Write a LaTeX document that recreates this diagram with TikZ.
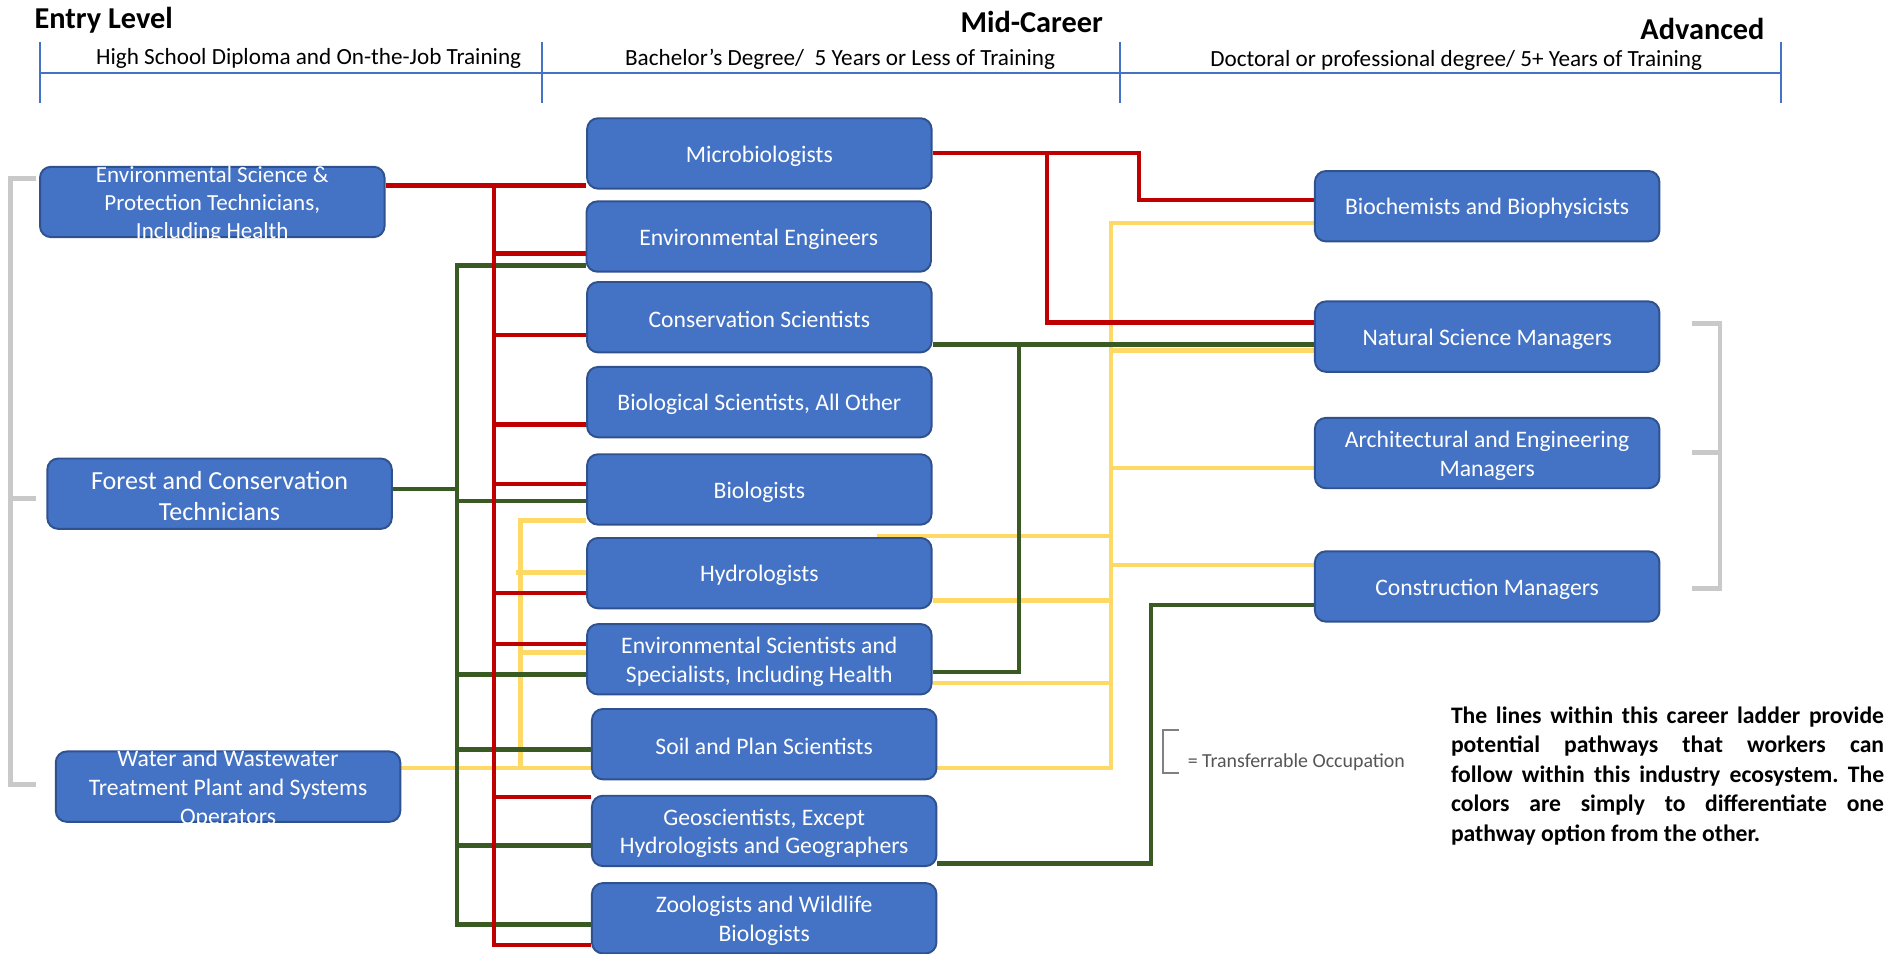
\documentclass[tikz,border=0pt]{standalone}
\usepackage{fontspec}
\setmainfont{Carlito}
\usetikzlibrary{backgrounds}
\definecolor{boxfill}{HTML}{4472C4}
\definecolor{boxline}{HTML}{2F528F}
\definecolor{cred}{HTML}{C00000}
\definecolor{cgreen}{HTML}{3A5A23}
\definecolor{cyellow}{HTML}{FFD966}
\definecolor{cgray}{HTML}{C9C9C9}
\definecolor{hdrblue}{HTML}{4472C4}
\definecolor{legtext}{HTML}{555555}
\frenchspacing
\begin{document}
\begin{tikzpicture}[x=1pt,y=-1pt,
  box/.style={draw=boxline, line width=1.6pt, fill=boxfill, rounded corners=9pt, minimum width=284pt, minimum height=58pt, inner sep=0pt},
  btxt/.style={text=white, align=center, font=\fontsize{19.5}{23.8}\selectfont, inner sep=0pt, yshift=-2pt},
  redl/.style={draw=cred, line width=3.6pt},
  grnl/.style={draw=cgreen, line width=3.6pt},
  yell/.style={draw=cyellow, line width=3.6pt},
  brk/.style={draw=cgray, line width=4pt},
  hdr/.style={font=\fontsize{25}{30}\selectfont\bfseries, inner sep=0pt},
  subhdr/.style={font=\fontsize{19.1}{23.3}\selectfont, inner sep=0pt},
  hline/.style={draw=hdrblue, line width=1.6pt}
]
\useasboundingbox (0,0) rectangle (1568,786);

% headers
\node[hdr] (h1) at (85.5,17) {Entry Level};
\node[hdr] (h2) at (850.5,18) {Mid-Career};
\node[hdr] (h3) at (1403.5,24) {Advanced};
\draw[hline] (33,60) -- (1468,60);
\foreach \x in {33,447,923,1468} \draw[hline] (\x,35) -- (\x,85);
\node[subhdr] (s1) at (254.5,48) {High School Diploma and On-the-Job Training};
\node[subhdr] (s2) at (692.5,49) {Bachelor’s Degree/\ \ 5 Years or Less of Training};
\node[subhdr] (s3) at (1200.5,50) {Doctoral or professional degree/ 5+ Years of Training};

% left column
\node[box] (est) at (175,166.5) {};
\node[btxt, font=\fontsize{19}{23.2}\selectfont] (estT) at (est) {Environmental Science \&\\Protection Technicians,\\Including Health};
\node[box] (fct) at (181,407) {};
\node[btxt, font=\fontsize{21.5}{25.5}\selectfont] (fctT) at (fct) {Forest and Conservation\\Technicians};
\node[box] (wwt) at (188,648.5) {};
\node[btxt] (wwtT) at (wwt) {Water and Wastewater\\Treatment Plant and Systems\\Operators};

% middle column
\node[box] (mic) at (626,126.5) {};
\node[btxt] (micT) at (mic) {Microbiologists};
\node[box] (eng) at (625.5,195) {};
\node[btxt] (engT) at (eng) {Environmental Engineers};
\node[box] (cons) at (626,261.5) {};
\node[btxt] (consT) at (cons) {Conservation Scientists};
\node[box] (bio) at (626,331.5) {};
\node[btxt] (bioT) at (bio) {Biological Scientists, All Other};
\node[box] (biol) at (626,403.5) {};
\node[btxt] (biolT) at (biol) {Biologists};
\node[box] (hyd) at (626,472.5) {};
\node[btxt] (hydT) at (hyd) {Hydrologists};
\node[box] (envs) at (626,543.5) {};
\node[btxt] (envsT) at (envs) {Environmental Scientists and\\Specialists, Including Health};
\node[box] (soil) at (630,613.5) {};
\node[btxt] (soilT) at (soil) {Soil and Plan Scientists};
\node[box] (geo) at (630,685) {};
\node[btxt] (geoT) at (geo) {Geoscientists, Except\\Hydrologists and Geographers};
\node[box] (zoo) at (630,757) {};
\node[btxt] (zooT) at (zoo) {Zoologists and Wildlife\\Biologists};

% right column
\node[box] (bch) at (1226,170) {};
\node[btxt] (bchT) at (bch) {Biochemists and Biophysicists};
\node[box] (nsm) at (1226,277.5) {};
\node[btxt] (nsmT) at (nsm) {Natural Science Managers};
\node[box] (aem) at (1226,373.5) {};
\node[btxt] (aemT) at (aem) {Architectural and Engineering\\Managers};
\node[box] (cm) at (1226,483.5) {};
\node[btxt] (cmT) at (cm) {Construction Managers};

% connectors (behind boxes)
\begin{scope}[on background layer]
  % yellow
  \coordinate (ylt) at (429,429);
  \coordinate (ylb) at (429,633);
  \coordinate (yrt) at (916,184);
  \coordinate (yrb) at (916,633);
  \draw[yell] (wwt.east |- ylb) -- (yrb) -- (yrt) -- (bch.west |- yrt);
  \draw[yell] (ylb) -- (ylt) -- (biol.west |- ylt);
  \draw[yell] (425,472) -- (hyd.west |- 0,472);
  \draw[yell] (ylt |- 0,538) -- (envs.west |- 0,538);
  \draw[yell] (yrt |- 0,289) -- (nsm.west |- 0,289);
  \draw[yell] (yrt |- 0,386) -- (aem.west |- 0,386);
  \draw[yell] (yrt |- 0,466) -- (cm.west |- 0,466);
  \draw[yell] (723,442) -- (yrt |- 0,442);
  \draw[yell] (hyd.east |- 0,495) -- (yrt |- 0,495);
  \draw[yell] (envs.east |- 0,563) -- (yrt |- 0,563);
  % green
  \coordinate (gtop) at (377,219);
  \coordinate (gbot) at (377,762);
  \draw[grnl] (fct.east |- 0,403) -- (gtop |- 0,403);
  \draw[grnl] (eng.west |- gtop) -- (gtop) -- (gbot) -- (zoo.west |- gbot);
  \foreach \n/\y in {biol/413, envs/556, soil/618, geo/697}
    \draw[grnl] (gtop |- 0,\y) -- (\n.west |- 0,\y);
  \coordinate (gj) at (840,284);
  \draw[grnl] (cons.east |- gj) -- (nsm.west |- gj);
  \draw[grnl] (gj) -- (840,554) -- (envs.east |- 0,554);
  \coordinate (gc) at (949,712);
  \draw[grnl] (geo.east |- gc) -- (gc) -- (949,499) -- (cm.west |- 0,499);
  % red
  \coordinate (rtop) at (407,153);
  \coordinate (rbot) at (407,779);
  \draw[redl] (est.east |- rtop) -- (mic.west |- rtop);
  \draw[redl] (rtop) -- (rbot) -- (zoo.west |- rbot);
  \foreach \n/\y in {eng/209, cons/276, bio/350, biol/399, hyd/489, envs/531, geo/657}
    \draw[redl] (rtop |- 0,\y) -- (\n.west |- 0,\y);
  \coordinate (rj) at (863,126);
  \draw[redl] (mic.east |- rj) -- (939,126) -- (939,165) -- (bch.west |- 0,165);
  \draw[redl] (rj) -- (863,266) -- (nsm.west |- 0,266);
\end{scope}

% transferable brackets
\draw[brk] (30,147) -- (9,147) -- (9,647) -- (30,647);
\draw[brk] (9,411) -- (30,411);
\draw[brk] (1395,267) -- (1418,267) -- (1418,485) -- (1395,485);
\draw[brk] (1395,373) -- (1418,373);

% legend
\draw[draw=gray, line width=1.6pt] (972,602) -- (959,602) -- (959,637) -- (972,637);
\node[anchor=west, inner sep=0pt, text=legtext, font=\fontsize{16.4}{20}\selectfont] (leg) at (979,628) {= Transferrable Occupation};

% note
\node[anchor=west, inner sep=0pt, align=left, font=\fontsize{19.5}{24.3}\selectfont\bfseries] (note) at (1196,639.5)
{\makebox[357pt][s]{The lines within this career ladder provide}\\
 \makebox[357pt][s]{potential pathways that workers can}\\
 \makebox[357pt][s]{follow within this industry ecosystem. The}\\
 \makebox[357pt][s]{colors are simply to differentiate one}\\
 pathway option from the other.};
\end{tikzpicture}
\end{document}
